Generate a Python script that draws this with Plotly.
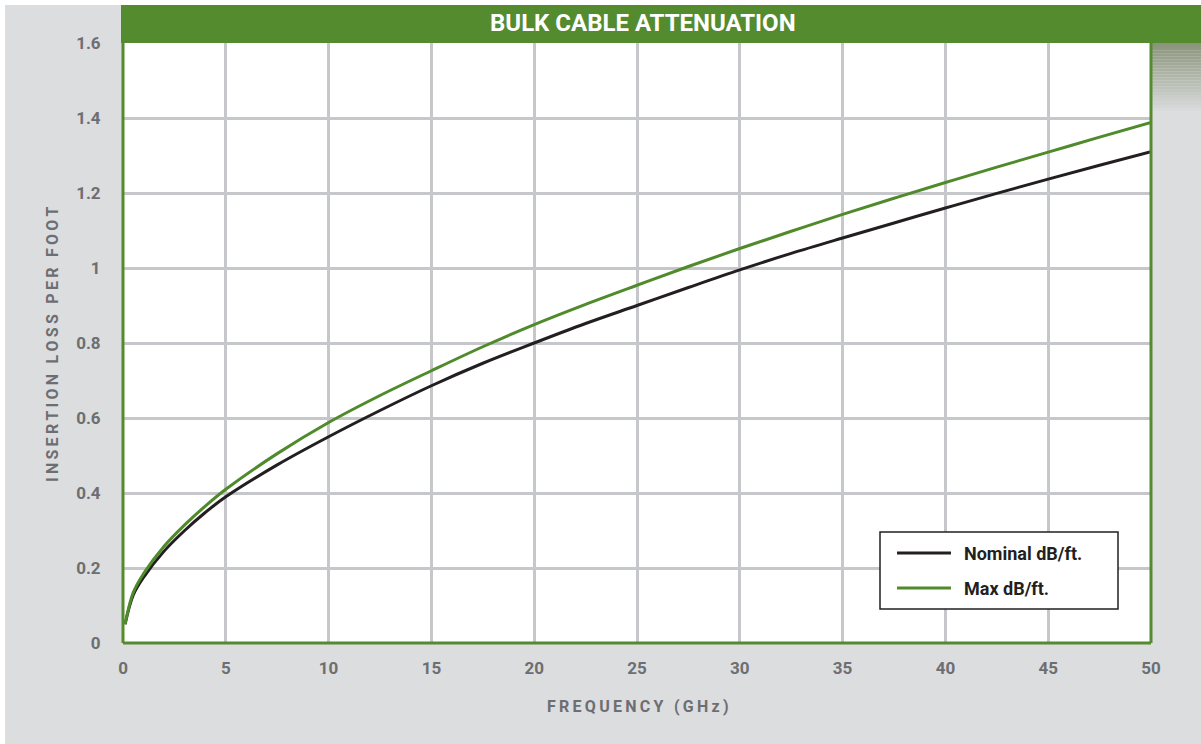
import plotly.graph_objects as go

# ---- data ----
freq_ghz = [0.1, 0.5, 1, 2, 3, 4, 5, 7.5, 10, 12.5, 15, 17.5, 20, 22.5, 25,
            27.5, 30, 32.5, 35, 37.5, 40, 42.5, 45, 47.5, 50]
nominal_db_ft = [0.05, 0.128, 0.175, 0.245, 0.30, 0.348, 0.39, 0.475, 0.55, 0.62,
                 0.686, 0.746, 0.80, 0.852, 0.90, 0.948, 0.995, 1.039, 1.08,
                 1.12, 1.16, 1.199, 1.237, 1.274, 1.31]
max_db_ft = [0.05, 0.135, 0.185, 0.258, 0.315, 0.365, 0.41, 0.505, 0.588, 0.66,
             0.726, 0.79, 0.849, 0.903, 0.954, 1.004, 1.052, 1.098, 1.143,
             1.186, 1.228, 1.269, 1.309, 1.349, 1.388]
x_ticks = [0, 5, 10, 15, 20, 25, 30, 35, 40, 45, 50]
y_ticks = [0, 0.2, 0.4, 0.6, 0.8, 1.0, 1.2, 1.4, 1.6]
y_tick_labels = ["0", "0.2", "0.4", "0.6", "0.8", "1", "1.2", "1.4", "1.6"]
series_names = ["Nominal dB/ft.", "Max dB/ft."]
title_text = "BULK CABLE ATTENUATION"
x_title = "FREQUENCY (GHz)"
y_title = "INSERTION LOSS PER FOOT"

# ---- style ----
W, H = 1201, 744
ML, MR, MT, MB = 123, 50, 43, 101
PW, PH = W - ML - MR, H - MT - MB
GREEN = "#558b2f"
LINE_GREEN = "#4f8a2b"
BLACK = "#231f20"
GRID = "#c6c7ca"
BG = "#dcdddf"
TICK = "#6d6e71"
FONT = "Roboto, Liberation Sans, sans-serif"


def px(x):
    return (x - ML) / PW


def py(y):
    return (MT + PH - y) / PH


def spaced(s, sep="\u2009"):
    return sep.join(list(s))


fig = go.Figure()
fig.add_trace(go.Scatter(x=freq_ghz, y=nominal_db_ft, mode="lines", name=series_names[0],
                         line=dict(color=BLACK, width=3, shape="spline"), showlegend=False))
fig.add_trace(go.Scatter(x=freq_ghz, y=max_db_ft, mode="lines", name=series_names[1],
                         line=dict(color=LINE_GREEN, width=3, shape="spline"), showlegend=False))

shapes = []
# white edge strips
shapes.append(dict(type="rect", xref="paper", yref="paper", x0=px(0), x1=px(5), y0=py(H), y1=py(0),
                   fillcolor="white", line_width=0, layer="below"))
shapes.append(dict(type="rect", xref="paper", yref="paper", x0=px(0), x1=px(W), y0=py(5), y1=py(0),
                   fillcolor="white", line_width=0, layer="below"))
# gradient box at top right
top_rgb = (0x88, 0x93, 0x78)
bot_rgb = (0xdc, 0xdd, 0xdf)
n_bands = 24
g_top, g_bot = 41, 114
for i in range(n_bands):
    t = i / (n_bands - 1)
    c = tuple(int(round(a + (b - a) * t)) for a, b in zip(top_rgb, bot_rgb))
    y0p = g_top + (g_bot - g_top) * i / n_bands
    y1p = g_top + (g_bot - g_top) * (i + 1) / n_bands
    shapes.append(dict(type="rect", xref="paper", yref="paper", x0=px(1151), x1=px(W),
                       y0=py(y1p), y1=py(y0p), fillcolor="rgb(%d,%d,%d)" % c,
                       line_width=0, layer="below"))
# title bar
shapes.append(dict(type="rect", xref="paper", yref="paper", x0=px(121), x1=px(W), y0=py(43), y1=py(5),
                   fillcolor=GREEN, line_width=0, layer="above"))
# plot borders (left, bottom, right)
for (x0, y0, x1, y1) in [(0, 0, 0, 1), (0, 0, 1, 0), (1, 0, 1, 1.0035)]:
    shapes.append(dict(type="line", xref="paper", yref="paper", x0=x0, y0=y0, x1=x1, y1=y1,
                       line=dict(color=GREEN, width=3), layer="above"))
# legend box + samples
shapes.append(dict(type="rect", xref="paper", yref="paper", x0=px(880), x1=px(1118), y0=py(609), y1=py(532),
                   fillcolor="white", line=dict(color=BLACK, width=1.5), layer="above"))
shapes.append(dict(type="line", xref="paper", yref="paper", x0=px(897), x1=px(951), y0=py(553), y1=py(553),
                   line=dict(color=BLACK, width=3), layer="above"))
shapes.append(dict(type="line", xref="paper", yref="paper", x0=px(897), x1=px(951), y0=py(588), y1=py(588),
                   line=dict(color=LINE_GREEN, width=3), layer="above"))

annotations = [
    dict(text="<b>%s</b>" % title_text, xref="paper", yref="paper", x=px(643), y=py(23),
         showarrow=False, xanchor="center", yanchor="middle",
         font=dict(family=FONT, size=24, color="white")),
    dict(text="<b>%s</b>" % spaced(x_title, "\u2009"), xref="paper", yref="paper", x=px(638), y=py(706),
         showarrow=False, xanchor="center", yanchor="middle",
         font=dict(family=FONT, size=16, color=TICK)),
    dict(text="<b>%s</b>" % spaced(y_title, "\u2009"), xref="paper", yref="paper", x=px(52), y=py(344),
         showarrow=False, xanchor="center", yanchor="middle", textangle=-90,
         font=dict(family=FONT, size=16, color=TICK)),
    dict(text="<b>%s</b>" % series_names[0], xref="paper", yref="paper", x=px(962), y=py(553),
         showarrow=False, xanchor="left", yanchor="middle",
         font=dict(family=FONT, size=18, color=BLACK)),
    dict(text="<b>%s</b>" % series_names[1], xref="paper", yref="paper", x=px(962), y=py(588),
         showarrow=False, xanchor="left", yanchor="middle",
         font=dict(family=FONT, size=18, color=BLACK)),
]

fig.update_layout(
    width=W, height=H,
    margin=dict(l=ML, r=MR, t=MT, b=MB, pad=0),
    paper_bgcolor=BG, plot_bgcolor="white",
    shapes=shapes, annotations=annotations,
    showlegend=False,
    xaxis=dict(range=[0, 50], tickvals=x_ticks, ticktext=[str(v) for v in x_ticks],
               showgrid=True, gridcolor=GRID, gridwidth=2.5, zeroline=False, showline=False,
               ticks="outside", ticklen=0, ticklabelstandoff=10,
               tickfont=dict(family=FONT, size=17, color=TICK, weight="bold")),
    yaxis=dict(range=[0, 1.6], tickvals=y_ticks, ticktext=y_tick_labels,
               showgrid=True, gridcolor=GRID, gridwidth=2.5, zeroline=False, showline=False,
               ticks="outside", ticklen=0, ticklabelstandoff=18,
               tickfont=dict(family=FONT, size=17, color=TICK, weight="bold")),
)

fig.write_html("out.html",
               config={"displayModeBar": False},
               post_script="document.body.style.margin='0';document.body.style.padding='0';"
                           "document.documentElement.style.overflow='hidden';")
